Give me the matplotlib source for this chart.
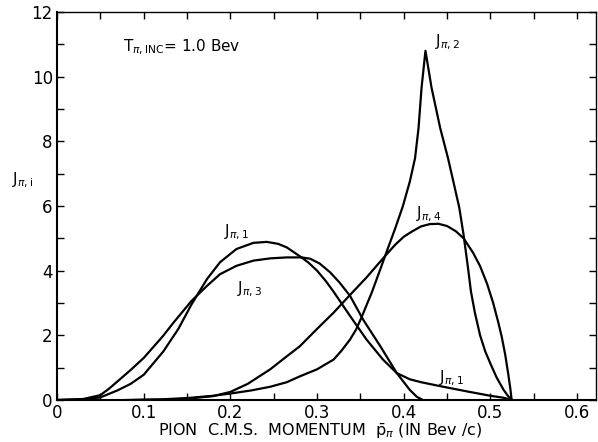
import matplotlib

matplotlib.use("Agg")
import matplotlib.pyplot as plt

# values (x in Bev/c, y is J_pi,i)
j1_x = [0.0, 0.03, 0.05, 0.07, 0.085, 0.1, 0.1226, 0.14, 0.155, 0.173, 0.188, 0.207, 0.2265, 0.242,
        0.255, 0.265, 0.282, 0.29, 0.30, 0.31, 0.319, 0.338, 0.357, 0.376, 0.392, 0.407, 0.42, 0.438,
        0.455, 0.476, 0.5, 0.515, 0.525]
j1_y = [0.0, 0.02, 0.08, 0.3, 0.5, 0.78, 1.5, 2.2, 2.95, 3.74, 4.26, 4.67, 4.86, 4.89,
        4.83, 4.72, 4.41, 4.25, 4.0, 3.68, 3.35, 2.6, 1.87, 1.25, 0.83, 0.64, 0.55, 0.45,
        0.36, 0.25, 0.13, 0.07, 0.0]

j2_x = [0.08, 0.12, 0.15, 0.18, 0.2, 0.225, 0.246, 0.265, 0.28, 0.3, 0.319, 0.328, 0.338, 0.345,
        0.351, 0.363, 0.373, 0.38, 0.39, 0.399, 0.407, 0.413, 0.417, 0.4205, 0.425, 0.432, 0.442,
        0.451, 0.459, 0.464, 0.469, 0.4735, 0.4775, 0.482, 0.488, 0.494, 0.5, 0.507, 0.515, 0.52,
        0.525]
j2_y = [0.0, 0.02, 0.06, 0.13, 0.2, 0.3, 0.41, 0.55, 0.73, 0.95, 1.25, 1.52, 1.87, 2.18,
        2.54, 3.32, 4.05, 4.57, 5.3, 6.0, 6.76, 7.48, 8.41, 9.66, 10.8, 9.66, 8.41,
        7.48, 6.54, 5.95, 5.1, 4.2, 3.35, 2.7, 2.0, 1.5, 1.12, 0.7, 0.32, 0.13,
        0.0]

j3_x = [0.0, 0.03, 0.05, 0.06, 0.07, 0.085, 0.1, 0.122, 0.134, 0.155, 0.173, 0.188, 0.207, 0.2265,
        0.2457, 0.265, 0.282, 0.292, 0.303, 0.315, 0.326, 0.338, 0.353, 0.373, 0.392, 0.407, 0.415,
        0.422]
j3_y = [0.0, 0.03, 0.15, 0.35, 0.58, 0.93, 1.3, 1.97, 2.38, 3.06, 3.53, 3.89, 4.15, 4.31,
        4.38, 4.41, 4.41, 4.37, 4.22, 3.95, 3.63, 3.22, 2.49, 1.66, 0.83, 0.31, 0.1,
        0.0]

j4_x = [0.09, 0.12, 0.15, 0.18, 0.2, 0.22, 0.246, 0.265, 0.28, 0.3, 0.319, 0.338, 0.357, 0.38,
        0.39, 0.40, 0.41, 0.42, 0.43, 0.44, 0.45, 0.46, 0.469, 0.48, 0.488, 0.496, 0.503, 0.509,
        0.513, 0.517, 0.5206, 0.523, 0.5244]
j4_y = [0.0, 0.01, 0.04, 0.12, 0.25, 0.5, 0.95, 1.35, 1.66, 2.2, 2.7, 3.25, 3.79, 4.5,
        4.8, 5.05, 5.22, 5.37, 5.44, 5.45, 5.38, 5.22, 5.0, 4.55, 4.14, 3.6, 3.01, 2.4,
        1.95, 1.4, 0.78, 0.33, 0.0]

x_major = [0.0, 0.1, 0.2, 0.3, 0.4, 0.5, 0.6]
x_major_labels = ["0", "0.1", "0.2", "0.3", "0.4", "0.5", "0.6"]
x_minor = [0.05, 0.15, 0.25, 0.35, 0.45, 0.55]
y_major = [0, 2, 4, 6, 8, 10, 12]
y_minor = [1, 3, 5, 7, 9, 11]

curve_labels = [
    (r"J$_{\pi,\mathrm{2}}$", 0.436, 11.05),
    (r"J$_{\pi,\mathrm{4}}$", 0.414, 5.75),
    (r"J$_{\pi,\mathrm{1}}$", 0.193, 5.2),
    (r"J$_{\pi,\mathrm{3}}$", 0.208, 3.43),
    (r"J$_{\pi,\mathrm{1}}$", 0.441, 0.68),
]


def main():
    plt.rcParams["font.family"] = ["DejaVu Sans"]
    plt.rcParams["mathtext.fontset"] = "dejavusans"

    fig = plt.figure(figsize=(5.98, 4.42), dpi=100)
    ax = fig.add_axes([57 / 598, 42 / 442, 539 / 598, 388 / 442])

    for xs, ys in [(j1_x, j1_y), (j2_x, j2_y), (j3_x, j3_y), (j4_x, j4_y)]:
        ax.plot(xs, ys, color="black", linewidth=1.6, solid_joinstyle="round")

    ax.set_xlim(0, 0.6217)
    ax.set_ylim(0, 12)

    ax.set_xticks(x_major)
    ax.set_xticklabels(x_major_labels)
    ax.set_xticks(x_minor, minor=True)
    ax.set_yticks(y_major)
    ax.set_yticks(y_minor, minor=True)
    ax.tick_params(which="both", direction="in", top=True, right=True, length=5, width=1.0,
                   labelsize=12, pad=3)

    for side in ["left", "bottom"]:
        ax.spines[side].set_linewidth(1.5)
    for side in ["top", "right"]:
        ax.spines[side].set_linewidth(1.0)

    ax.set_xlabel(r"PION  C.M.S.  MOMENTUM  $\bar{\mathrm{p}}_{\pi}$ (IN Bev /c)", fontsize=11.5,
                  va="center")
    ax.xaxis.set_label_coords(0.488, -31 / 388)
    fig.text(12 / 598, 1 - 180 / 442, r"J$_{\pi,\mathrm{i}}$", fontsize=11, ha="left", va="center")

    ax.text(0.076, 10.9, r"T$_{\pi,\mathrm{INC}}$= 1.0 Bev", fontsize=11, ha="left", va="center")
    for text, x, y in curve_labels:
        ax.text(x, y, text, fontsize=11, ha="left", va="center")

    fig.savefig("out.png", dpi=100)
    plt.close(fig)


main()
